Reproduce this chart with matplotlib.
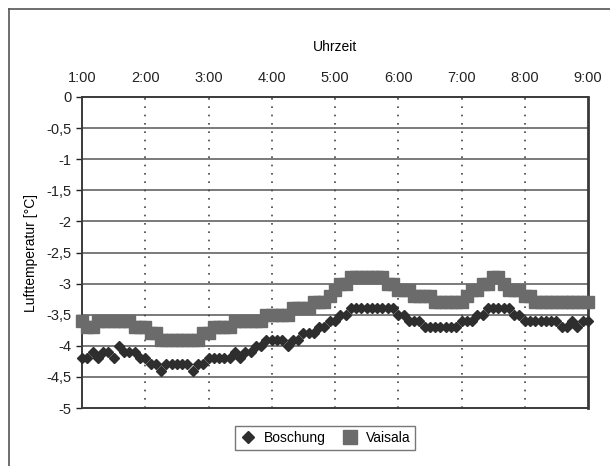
import numpy as np
import matplotlib
matplotlib.use('Agg')
import matplotlib.pyplot as plt
from matplotlib.lines import Line2D
from matplotlib.ticker import FuncFormatter

plt.rcParams['font.family'] = ['Liberation Sans', 'DejaVu Sans']

# Messzeitpunkte in Minuten nach 1:00 (5-Minuten-Raster)
minutes = np.arange(0, 481, 5)

# Lufttemperatur Vaisala [°C]
vaisala = [
    -3.6, -3.7, -3.7, -3.6, -3.6, -3.6, -3.6, -3.6, -3.6, -3.6,   # 1:00 - 1:45
    -3.7, -3.7, -3.7, -3.8, -3.8, -3.9, -3.9, -3.9, -3.9, -3.9,   # 1:50 - 2:35
    -3.9, -3.9, -3.9, -3.8, -3.8, -3.7, -3.7, -3.7, -3.7, -3.6,   # 2:40 - 3:25
    -3.6, -3.6, -3.6, -3.6, -3.6, -3.5, -3.5, -3.5, -3.5, -3.5,   # 3:30 - 4:15
    -3.4, -3.4, -3.4, -3.4, -3.3, -3.3, -3.3, -3.2, -3.1, -3.0,   # 4:20 - 5:05
    -3.0, -2.9, -2.9, -2.9, -2.9, -2.9, -2.9, -2.9, -3.0, -3.0,   # 5:10 - 5:55
    -3.1, -3.1, -3.1, -3.2, -3.2, -3.2, -3.2, -3.3, -3.3, -3.3,   # 6:00 - 6:45
    -3.3, -3.3, -3.3, -3.2, -3.1, -3.1, -3.0, -3.0, -2.9, -2.9,   # 6:50 - 7:35
    -3.0, -3.1, -3.1, -3.1, -3.2, -3.2, -3.3, -3.3, -3.3, -3.3,   # 7:40 - 8:25
    -3.3, -3.3, -3.3, -3.3, -3.3, -3.3, -3.3,                     # 8:30 - 9:00
]

# Lufttemperatur Boschung [°C]
boschung = [
    -4.2, -4.2, -4.1, -4.2, -4.1, -4.1, -4.2, -4.0, -4.1, -4.1,   # 1:00 - 1:45
    -4.1, -4.2, -4.2, -4.3, -4.3, -4.4, -4.3, -4.3, -4.3, -4.3,   # 1:50 - 2:35
    -4.3, -4.4, -4.3, -4.3, -4.2, -4.2, -4.2, -4.2, -4.2, -4.1,   # 2:40 - 3:25
    -4.2, -4.1, -4.1, -4.0, -4.0, -3.9, -3.9, -3.9, -3.9, -4.0,   # 3:30 - 4:15
    -3.9, -3.9, -3.8, -3.8, -3.8, -3.7, -3.7, -3.6, -3.6, -3.5,   # 4:20 - 5:05
    -3.5, -3.4, -3.4, -3.4, -3.4, -3.4, -3.4, -3.4, -3.4, -3.4,   # 5:10 - 5:55
    -3.5, -3.5, -3.6, -3.6, -3.6, -3.7, -3.7, -3.7, -3.7, -3.7,   # 6:00 - 6:45
    -3.7, -3.7, -3.6, -3.6, -3.6, -3.5, -3.5, -3.4, -3.4, -3.4,   # 6:50 - 7:35
    -3.4, -3.4, -3.5, -3.5, -3.6, -3.6, -3.6, -3.6, -3.6, -3.6,   # 7:40 - 8:25
    -3.6, -3.7, -3.7, -3.6, -3.7, -3.6, -3.6,                     # 8:30 - 9:00
]

hour_labels = ['1:00', '2:00', '3:00', '4:00', '5:00', '6:00', '7:00', '8:00', '9:00']

hours = 1 + minutes / 60.0

fig = plt.figure(figsize=(6.10, 4.66), dpi=100)
ax = fig.add_axes([82 / 610, 1 - 408 / 466, 506 / 610, 311 / 466])

# Rahmen um das gesamte Diagramm
fig.add_artist(Line2D([9 / 610, 9 / 610], [0, 1 - 9 / 466], color='#555555', lw=1.2))
fig.add_artist(Line2D([9 / 610, 1], [1 - 9 / 466, 1 - 9 / 466], color='#555555', lw=1.2))

ax.plot(hours, vaisala, linestyle='none', marker='s', markersize=8,
        color='#6b6b6b', label='Vaisala', clip_on=False, zorder=3)
ax.plot(hours, boschung, linestyle='none', marker='D', markersize=5,
        color='#2e2e2e', label='Boschung', clip_on=False, zorder=4)

ax.set_xlim(1, 9)
ax.set_ylim(-5, 0)

ax.xaxis.tick_top()
ax.xaxis.set_label_position('top')
ax.set_xticks(range(1, 10))
ax.set_xticklabels(hour_labels)
ax.set_xlabel('Uhrzeit', fontsize=10, labelpad=14)
ax.tick_params(axis='x', length=0, pad=9, labelsize=10.5, colors='#222222')

ax.set_yticks(np.arange(-5, 0.01, 0.5))
ax.yaxis.set_major_formatter(FuncFormatter(lambda v, p: f'{v:g}'.replace('.', ',')))
ax.tick_params(axis='y', length=4, width=1, direction='out', labelsize=10.5, colors='#222222')
ax.set_ylabel('Lufttemperatur [°C]', fontsize=10, labelpad=6)

# horizontale Gitterlinien durchgezogen, vertikale gepunktet
for v in np.arange(-4.5, 0, 0.5):
    ax.axhline(v, color='#7a7a7a', lw=1.4, zorder=1)
for h in range(2, 9):
    ax.axvline(h, color='#444444', lw=1.2, linestyle=(0, (1, 4)), zorder=1)

for side in ['left', 'right', 'top', 'bottom']:
    ax.spines[side].set_color('#3a3a3a')
    ax.spines[side].set_linewidth(1.4)
ax.spines['right'].set_linewidth(2)

handles, labels = ax.get_legend_handles_labels()
leg = fig.legend(handles[::-1], labels[::-1], loc='center', bbox_to_anchor=(325 / 610, 1 - 438 / 466),
                 ncol=2, frameon=True, fancybox=False, fontsize=10, handletextpad=0.5,
                 columnspacing=1.2, handlelength=1.2, borderpad=0.35, markerscale=1.3)
leg.get_frame().set_edgecolor('#555555')
leg.get_frame().set_linewidth(1.0)

fig.savefig('out.png', dpi=100)
